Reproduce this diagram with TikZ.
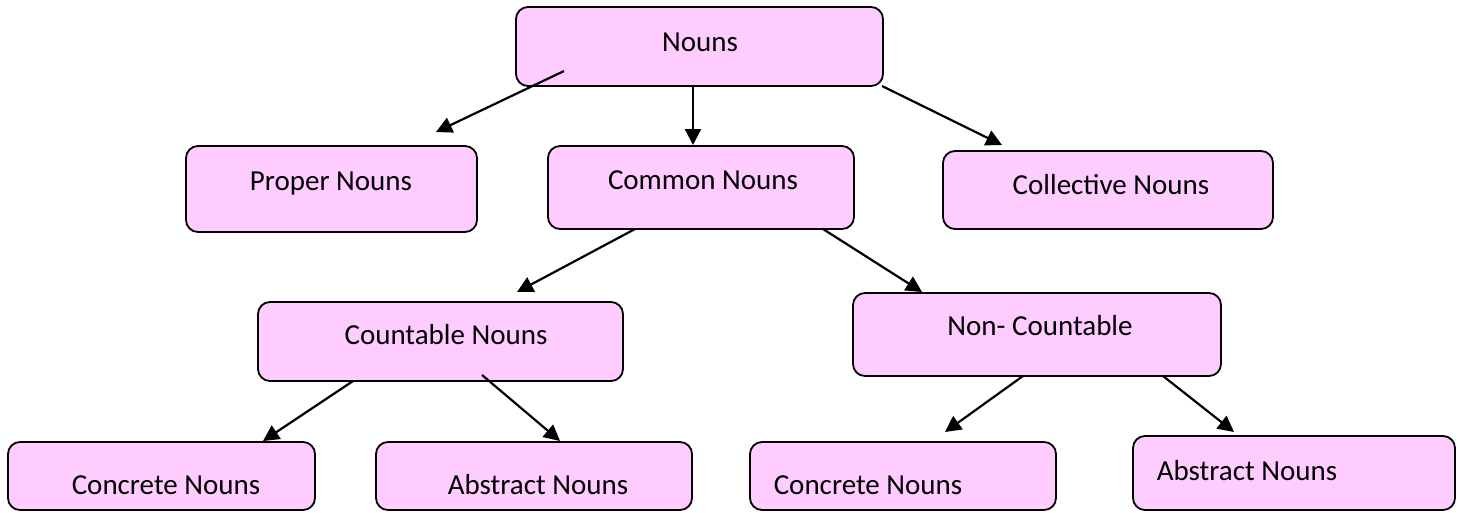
\documentclass[tikz,border=0pt]{standalone}
\usepackage{fontspec}
\setmainfont{Carlito}
\usetikzlibrary{arrows.meta}
\definecolor{boxpink}{HTML}{FFCCFF}
\tikzset{
  nbox/.style={draw=black, fill=boxpink, line width=1.8pt, rounded corners=12pt, inner sep=0pt},
  ntext/.style={anchor=base, inner sep=0pt, font=\fontsize{29}{34}\selectfont},
  conn/.style={line width=2.2pt, -{Triangle[length=16pt,width=16pt]}}
}
\newcommand{\mybox}[6]{% name, l, t, r, b
  \node[nbox, minimum width={#4-#2}, minimum height={#5-#3}] (#1) at ({(#2+#4)/2},{(#3+#5)/2}) {};
}
\begin{document}
\begin{tikzpicture}[x=1pt,y=-1pt]
\useasboundingbox (0,0) rectangle (1461,512);
% boxes
\mybox{nouns}{516}{7}{883}{86}{}
\mybox{proper}{186}{146}{477}{232}{}
\mybox{common}{548}{146}{854}{229}{}
\mybox{collective}{943}{151}{1273}{229}{}
\mybox{countable}{258}{302}{623}{381}{}
\mybox{noncount}{853}{293}{1221}{376}{}
\mybox{concA}{8}{442}{315}{510}{}
\mybox{absA}{376}{442}{692}{510}{}
\mybox{concB}{750}{442}{1056}{510}{}
\mybox{absB}{1133}{436}{1455}{510}{}
% texts
\node[ntext] (t-nouns) at (700,51) {Nouns};
\node[ntext] (t-proper) at (331,190) {Proper Nouns};
\node[ntext] (t-common) at (703,189) {Common Nouns};
\node[ntext] (t-collective) at (1111,194) {Collective Nouns};
\node[ntext] (t-countable) at (446,344) {Countable Nouns};
\node[ntext] (t-noncount) at (1040,335) {Non- Countable};
\node[ntext] (t-concA) at (166,494) {Concrete Nouns};
\node[ntext] (t-absA) at (538,494) {Abstract Nouns};
\node[ntext] (t-concB) at (868,494) {Concrete Nouns};
\node[ntext] (t-absB) at (1247,480) {Abstract Nouns};
% connector end points
\coordinate (s1) at (564,71);   \coordinate (e1) at (436,132);
\coordinate (s2) at (693,86);   \coordinate (e2) at (693,145);
\coordinate (s3) at (882,86);   \coordinate (e3) at (1002,145);
\coordinate (s4) at (635,229);  \coordinate (e4) at (517,292);
\coordinate (s5) at (823,229);  \coordinate (e5) at (922,292);
\coordinate (s6) at (353,381);  \coordinate (e6) at (263,441);
\coordinate (s7) at (482,375);  \coordinate (e7) at (560,441);
\coordinate (s8) at (1023,376); \coordinate (e8) at (945,432);
\coordinate (s9) at (1163,376); \coordinate (e9) at (1234,432);
\foreach \i in {1,...,9} { \draw[conn] (s\i) -- (e\i); }
\end{tikzpicture}
\end{document}
